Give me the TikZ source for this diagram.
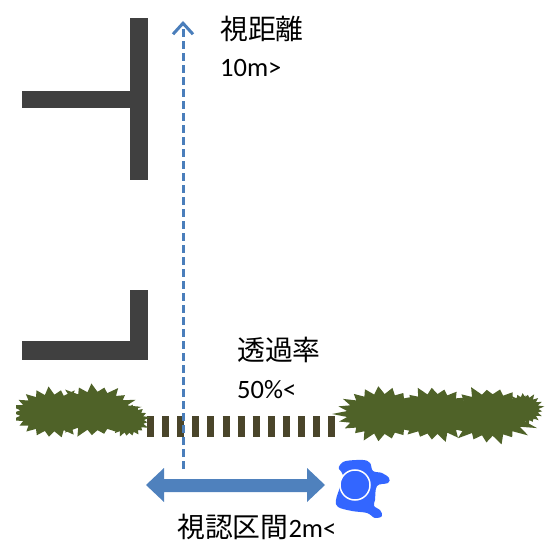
\documentclass[tikz,border=0pt]{standalone}
\usepackage{fontspec}
\setmainfont{Carlito}
\newfontfamily\jp{Noto Sans CJK JP}[Scale=1.05]
\usepackage{tikz}
\usetikzlibrary{arrows.meta}
\definecolor{wallgray}{HTML}{404040}
\definecolor{rayblue}{HTML}{4A7EBB}
\definecolor{spanblue}{HTML}{4F81BD}
\definecolor{fencebrown}{HTML}{4A452A}
\definecolor{bushgreen}{HTML}{4F6228}
\definecolor{walkerblue}{HTML}{3366FF}
\tikzset{
  wall/.style={fill=wallgray},
  ray/.style={draw=rayblue, line width=3pt, dash pattern=on 8pt off 4pt,
    -{Straight Barb[length=11pt,width=20pt,line width=3pt]}},
  span/.style={fill=spanblue},
  fence/.style={draw=fencebrown, line width=21pt, dash pattern=on 7pt off 8.1pt},
  bush/.style={fill=bushgreen},
  walker/.style={fill=walkerblue},
  lab/.style={inner sep=0pt, font=\fontsize{26.5}{30}\selectfont},
}
% spiky shrub: centre x, centre y, radius x, radius y
\newcommand{\shrub}[4]{%
  \fill[bush] ({#1+0.8*#3},#2)
    \foreach \k [evaluate=\k as \rr using {0.8+mod(\k,2)*(0.16+0.2*rnd)}] in {1,...,41}
      { -- ({#1+\rr*#3*cos(\k*360/42)},{#2+\rr*#4*sin(\k*360/42)}) } -- cycle;}

\begin{document}
\begin{tikzpicture}[x=1pt, y=-1pt]
  \useasboundingbox (0,0) rectangle (549,545);
  \pgfmathsetseed{7}
  % walls
  \fill[wall] (130,18) rectangle (148,180);
  \fill[wall] (22,91) rectangle (130,108);
  \fill[wall] (130,290) rectangle (148,360);
  \fill[wall] (22,341) rectangle (130,360);
  % see-through fence between the shrubs
  \coordinate (fenceL) at (147,426.5);
  \coordinate (fenceR) at (335,426.5);
  \draw[fence] (fenceL) -- (fenceR);
  \begin{scope}
    \clip (16,0) rectangle (549,545);
    \shrub{52}{413}{40}{23}
    \shrub{95}{411}{42}{24}
    \shrub{128}{420}{20}{16}
    \shrub{382}{414}{44}{25}
    \shrub{435}{414}{42}{25}
    \shrub{490}{415}{45}{26}
    \shrub{524}{409}{18}{15}
  \end{scope}
  % line of sight
  \coordinate (eye) at (183,469);
  \coordinate (far) at (183,21);
  \draw[ray] (eye) -- (far);
  % visible stretch
  \fill[span] (146,485) -- (164,468) -- (164,479) -- (307,479) -- (307,468)
    -- (325,485) -- (307,502) -- (307,492) -- (164,492) -- (164,502) -- cycle;
  % walker seen from above
  \fill[walker] plot[smooth cycle, tension=0.6] coordinates {
    (340,465) (346,461) (363,460) (370,463) (373,471) (382,473) (389,478)
    (388,483) (377,486) (375,500) (374,506) (380,510) (382,516) (375,518)
    (367,513) (352,511) (338,507) (336,500) (340,487) (343,475) (339,469)};
  \draw[walker, draw=white, line width=1.5pt] (355,485) circle (15);
  % labels
  \node[lab, anchor=base west] (farname) at (220,40) {\jp 視距離};
  \node[lab, anchor=base west] (farval) at (220,77) {10m>};
  \node[lab, anchor=base west] (passname) at (237,361) {\jp 透過率};
  \node[lab, anchor=base west] (passval) at (237,398) {50\%<};
  \node[lab, anchor=base west] (spanname) at (177,537) {{\jp 視認区間}2m<};
\end{tikzpicture}
\end{document}
